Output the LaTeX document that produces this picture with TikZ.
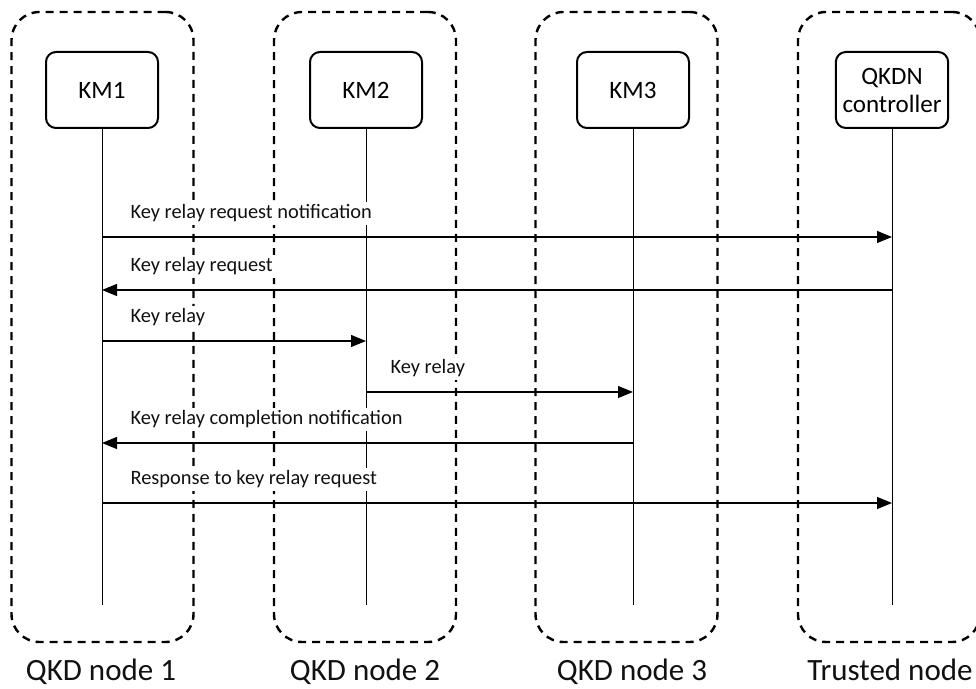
\documentclass[tikz,border=0pt]{standalone}
\usepackage{fontspec}
\setmainfont{Carlito}
\usetikzlibrary{arrows.meta,positioning,calc}
\definecolor{ink}{HTML}{000000}
\definecolor{textdark}{HTML}{111111}
\tikzset{
    % Dashed area round each node
    node area/.style={
        rectangle,
        rounded corners=14pt,
        minimum width=91pt,
        minimum height=315pt,
        draw=ink,
        line width=1.2pt,
        dash pattern=on 4pt off 3pt
    },
    % Key manager / controller box
    manager/.style={
        rectangle,
        rounded corners=5pt,
        minimum width=56pt,
        minimum height=38pt,
        align=center,
        font=\fontsize{12.5}{14}\selectfont,
        draw=ink,
        fill=white,
        line width=1pt
    },
    % Lifeline and message styles
    lifeline/.style={
        line width=0.5pt,
        color=ink
    },
    msg/.style={
        -{Triangle[length=7.5pt, width=6pt]},
        line width=0.6pt,
        color=ink
    },
    % Label styles
    msg label/.style={
        font=\fontsize{10.2}{12}\selectfont,
        text=textdark,
        fill=white,
        anchor=base west,
        inner sep=1.5pt,
        xshift=12.5pt,
        yshift=9pt
    },
    area title/.style={
        font=\fontsize{15.5}{18}\selectfont,
        text=textdark,
        anchor=base,
        inner sep=0pt
    }
}

\begin{document}
\begin{tikzpicture}[x=0.5pt, y=-0.5pt]
    \useasboundingbox (0,0) rectangle (976,689);
    \clip (0,0) rectangle (976,689);

    % Node areas
    \node[node area] (area1) at (102.5,327) {};
    \node[node area] (area2) at (365,327) {};
    \node[node area] (area3) at (626.5,327) {};
    \node[node area] (area4) at (889,327) {};

    \node[area title] (title1) at (101,681) {QKD node 1};
    \node[area title] (title2) at (365,681) {QKD node 2};
    \node[area title] (title3) at (632,681) {QKD node 3};
    \node[area title] (title4) at (890,681) {Trusted node};

    % Key managers and controller
    \node[manager] (km1) at (102,90) {KM1};
    \node[manager] (km2) at (366,90) {KM2};
    \node[manager] (km3) at (633,90) {KM3};
    \node[manager] (ctrl) at (892,90) {QKDN\\controller};

    % Lifelines
    \coordinate (end1) at (km1 |- 0,605);
    \coordinate (end2) at (km2 |- 0,605);
    \coordinate (end3) at (km3 |- 0,605);
    \coordinate (end4) at (ctrl |- 0,605);
    \draw[lifeline] (km1) -- (end1);
    \draw[lifeline] (km2) -- (end2);
    \draw[lifeline] (km3) -- (end3);
    \draw[lifeline] (ctrl) -- (end4);

    % Messages
    \draw[msg] (km1 |- 0,237) node[msg label] {Key relay request notification} -- (ctrl |- 0,237);
    \draw[msg] (ctrl |- 0,290) -- (km1 |- 0,290) node[msg label] {Key relay request};
    \draw[msg] (km1 |- 0,341) node[msg label] {Key relay} -- (km2 |- 0,341);
    \draw[msg] (km2 |- 0,392) node[msg label, xshift=-2pt] {Key relay} -- (km3 |- 0,392);
    \draw[msg] (km3 |- 0,443) -- (km1 |- 0,443) node[msg label] {Key relay completion notification};
    \draw[msg] (km1 |- 0,503) node[msg label] {Response to key relay request} -- (ctrl |- 0,503);

\end{tikzpicture}
\end{document}
